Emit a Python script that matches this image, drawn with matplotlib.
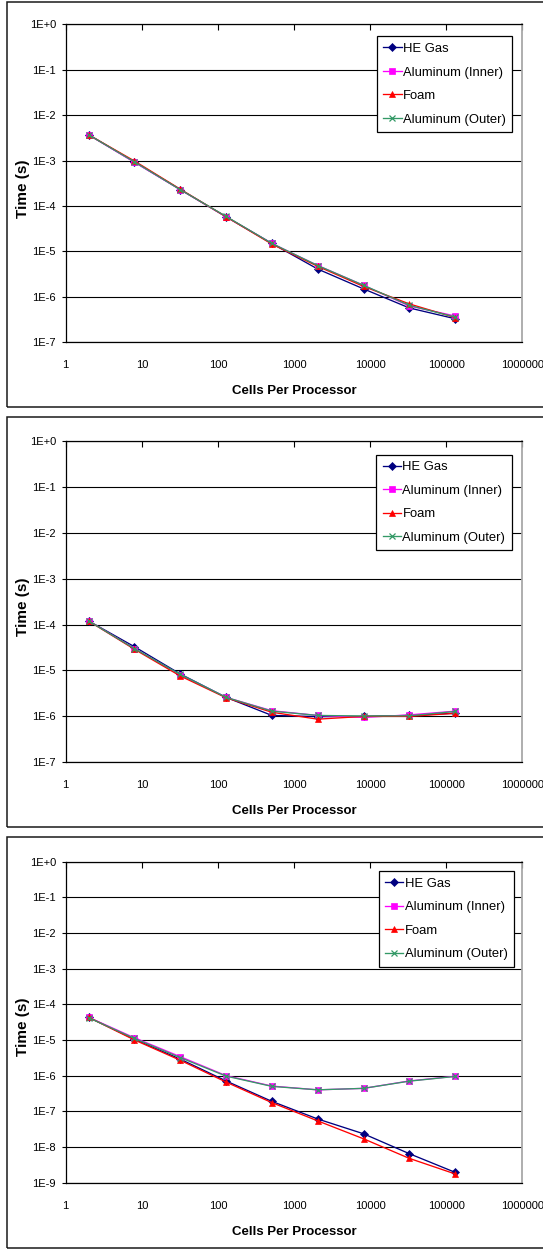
import matplotlib
matplotlib.use('Agg')
import matplotlib.pyplot as plt
from matplotlib.patches import Rectangle
from matplotlib.ticker import FixedLocator, FuncFormatter, NullLocator
import numpy as np

plt.rcParams['font.family'] = ['Liberation Sans', 'DejaVu Sans']

# ---- data ----
cells = [2, 8, 32, 128, 512, 2048, 8192, 32768, 131072]
series_names = ['HE Gas', 'Aluminum (Inner)', 'Foam', 'Aluminum (Outer)']

p1_he = [3.7e-3, 9.3e-4, 2.3e-4, 5.8e-5, 1.5e-5, 4.1e-6, 1.5e-6, 5.7e-7, 3.3e-7]
p1_al_in = [3.7e-3, 9.2e-4, 2.3e-4, 5.8e-5, 1.5e-5, 4.9e-6, 1.8e-6, 6.3e-7, 3.8e-7]
p1_foam = [3.7e-3, 9.8e-4, 2.35e-4, 5.8e-5, 1.45e-5, 4.7e-6, 1.7e-6, 7.0e-7, 3.5e-7]
p1_al_out = [3.7e-3, 9.4e-4, 2.3e-4, 5.9e-5, 1.5e-5, 4.9e-6, 1.8e-6, 6.5e-7, 3.6e-7]

p2_he = [1.2e-4, 3.3e-5, 8.4e-6, 2.6e-6, 1.05e-6, 0.99e-6, 1.0e-6, 1.05e-6, 1.17e-6]
p2_al_in = [1.2e-4, 3.0e-5, 8.0e-6, 2.6e-6, 1.33e-6, 1.05e-6, 0.95e-6, 1.08e-6, 1.3e-6]
p2_foam = [1.2e-4, 2.9e-5, 7.6e-6, 2.55e-6, 1.23e-6, 0.87e-6, 1.0e-6, 1.0e-6, 1.17e-6]
p2_al_out = [1.2e-4, 3.0e-5, 8.2e-6, 2.6e-6, 1.3e-6, 1.05e-6, 1.02e-6, 1.03e-6, 1.28e-6]

p3_he = [4.3e-5, 1.05e-5, 2.9e-6, 7.1e-7, 1.9e-7, 6.1e-8, 2.35e-8, 6.5e-9, 1.95e-9]
p3_al_in = [4.3e-5, 1.15e-5, 3.4e-6, 1.0e-6, 5.1e-7, 4.0e-7, 4.4e-7, 7.1e-7, 9.6e-7]
p3_foam = [4.3e-5, 1.0e-5, 2.7e-6, 6.6e-7, 1.75e-7, 5.4e-8, 1.7e-8, 4.8e-9, 1.76e-9]
p3_al_out = [4.2e-5, 1.1e-5, 3.2e-6, 0.97e-6, 5.0e-7, 4.0e-7, 4.4e-7, 7.0e-7, 9.5e-7]

x_ticks = [1, 10, 100, 1000, 10000, 100000, 1000000]
x_label = 'Cells Per Processor'
y_label = 'Time (s)'

colors = ['#000080', '#FF00FF', '#FF0000', '#339966']
markers = ['D', 's', '^', 'x']
msizes = [3.6, 4.0, 4.2, 4.2]

W, H = 543, 1249
fig = plt.figure(figsize=(W / 100, H / 100), dpi=100)


def fx(px):
    return px / W


def fy(py):
    return 1 - py / H


panels = [
    dict(box=(1.7, 406.7), ax=(24.3, 342.3), ymin_exp=-7,
         data=[p1_he, p1_al_in, p1_foam, p1_al_out], leg=(0.978, 0.962)),
    dict(box=(416.7, 827.3), ax=(441.0, 762.3), ymin_exp=-7,
         data=[p2_he, p2_al_in, p2_foam, p2_al_out], leg=(0.977, 0.9576)),
    dict(box=(836.7, 1247.7), ax=(861.5, 1182.7), ymin_exp=-9,
         data=[p3_he, p3_al_in, p3_foam, p3_al_out], leg=(0.982, 0.9704)),
]

AX_L, AX_R = 65.7, 522.3

for p in panels:
    bt, bb = p['box']
    fig.add_artist(Rectangle((fx(7.3), fy(bb)), fx(600 - 7.3), (bb - bt) / H,
                             transform=fig.transFigure, fill=False,
                             edgecolor='#1a1a1a', linewidth=1.1))
    at, ab = p['ax']
    ax = fig.add_axes([fx(AX_L), fy(ab), fx(AX_R - AX_L), (ab - at) / H])
    ax.set_xscale('log')
    ax.set_yscale('log')
    ax.set_xlim(1, 1e6)
    ax.set_ylim(10.0 ** p['ymin_exp'], 1)

    for name, vals, c, m, ms in zip(series_names, p['data'], colors, markers, msizes):
        ax.plot(cells, vals, color=c, marker=m, markersize=ms, linewidth=0.95,
                markeredgewidth=0.9 if m == 'x' else 0.5, label=name, zorder=3)

    yt = [10.0 ** e for e in range(p['ymin_exp'], 1)]
    ax.yaxis.set_major_locator(FixedLocator(yt))
    ax.yaxis.set_minor_locator(NullLocator())
    ax.yaxis.set_major_formatter(FuncFormatter(
        lambda v, pos: '1E%+d' % int(round(np.log10(v)))))
    ax.xaxis.set_major_locator(FixedLocator(x_ticks))
    ax.xaxis.set_minor_locator(NullLocator())
    ax.xaxis.set_major_formatter(FuncFormatter(lambda v, pos: '%d' % int(round(v))))

    ax.yaxis.grid(True, color='black', linewidth=0.8)
    ax.set_axisbelow(True)
    ax.tick_params(axis='x', bottom=False, labelbottom=True, top=True,
                   direction='in', length=4, width=0.8, pad=13, labelsize=8)
    ax.tick_params(axis='y', left=True, direction='out', length=3, width=0.8,
                   pad=4, labelsize=8)

    for s in ['top', 'left', 'bottom']:
        ax.spines[s].set_color('black')
        ax.spines[s].set_linewidth(0.9)
    ax.spines['right'].set_color('#a8a8a8')
    ax.spines['right'].set_linewidth(1.3)

    ax.set_xlabel(x_label, fontsize=9.5, fontweight='bold')
    ax.xaxis.set_label_coords(0.5, -49.0 / (ab - at))
    ax.xaxis.label.set_va('center')
    ax.set_ylabel(y_label, fontsize=11, fontweight='bold')
    ax.yaxis.set_label_coords((22.5 - AX_L) / (AX_R - AX_L), 1 - 164.0 / 318.0)
    ax.yaxis.label.set_va('center')

    leg = ax.legend(loc='upper right', bbox_to_anchor=p['leg'], borderaxespad=0,
                    fontsize=9.4, frameon=True, fancybox=False, framealpha=1,
                    edgecolor='black', handlelength=1.4, handletextpad=0.1,
                    labelspacing=0.87, borderpad=0.5)
    leg.get_frame().set_linewidth(0.9)

fig.savefig('out.png', dpi=100, facecolor='white')
